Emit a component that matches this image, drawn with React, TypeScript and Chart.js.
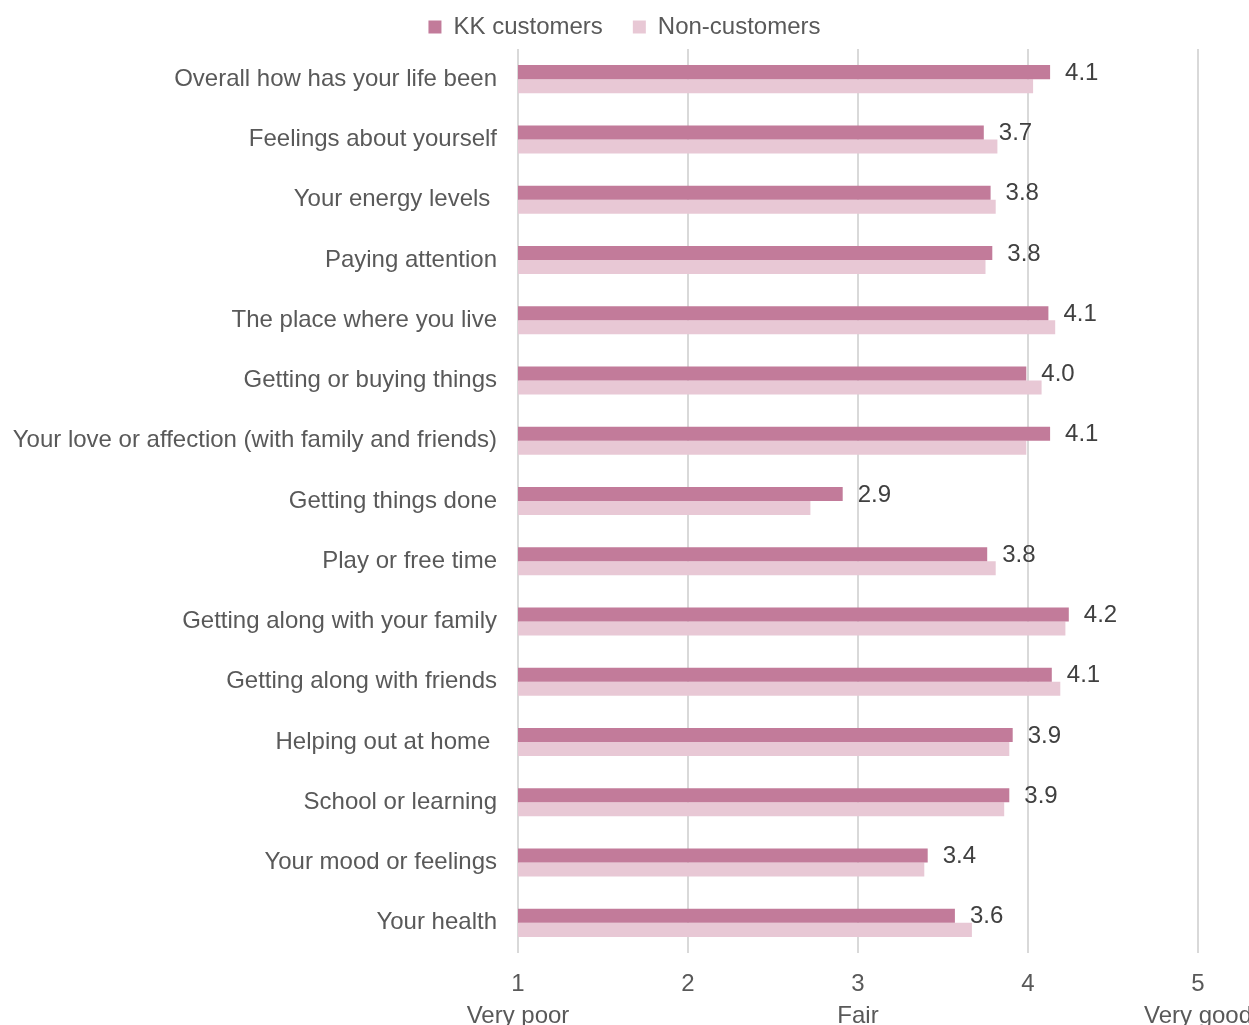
import React, { useEffect, useRef } from "react";
import { Chart, registerables } from "chart.js";

Chart.register(...registerables);

const categories = [
  "Overall how has your life been",
  "Feelings about yourself",
  "Your energy levels ",
  "Paying attention",
  "The place where you live",
  "Getting or buying things",
  "Your love or affection (with family and friends)",
  "Getting things done",
  "Play or free time",
  "Getting along with your family",
  "Getting along with friends",
  "Helping out at home ",
  "School or learning",
  "Your mood or feelings",
  "Your health",
];

const kkCustomers = [4.13, 3.74, 3.78, 3.79, 4.12, 3.99, 4.13, 2.91, 3.76, 4.24, 4.14, 3.91, 3.89, 3.41, 3.57];
const nonCustomers = [4.03, 3.82, 3.81, 3.75, 4.16, 4.08, 3.99, 2.72, 3.81, 4.22, 4.19, 3.89, 3.86, 3.39, 3.67];

const seriesNames = ["KK customers", "Non-customers"];
const tickValues = [1, 2, 3, 4, 5];
const tickSubLabels: Record<number, string> = { 1: "Very poor", 3: "Fair", 5: "Very good" };

const FONT = "'Liberation Sans', Arial, sans-serif";

const dataLabelPlugin = {
  id: "dataLabels",
  afterDatasetsDraw(chart: any) {
    const ctx = chart.ctx;
    const meta = chart.getDatasetMeta(0);
    const ds = chart.data.datasets[0];
    ctx.save();
    ctx.font = `24px ${FONT}`;
    ctx.fillStyle = "#404040";
    ctx.textAlign = "left";
    ctx.textBaseline = "middle";
    meta.data.forEach((el: any, i: number) => {
      const v = ds.data[i] as number;
      ctx.fillText(v.toFixed(1), el.x + 15, el.y + 1);
    });
    ctx.restore();
  },
};

export default function App() {
  const ref = useRef<HTMLCanvasElement | null>(null);
  useEffect(() => {
    if (!ref.current) return;
    const chart = new Chart(ref.current, {
      type: "bar",
      data: {
        labels: categories,
        datasets: [
          {
            label: seriesNames[0],
            data: kkCustomers,
            backgroundColor: "#C27B9A",
            categoryPercentage: 0.465,
            barPercentage: 1,
          },
          {
            label: seriesNames[1],
            data: nonCustomers,
            backgroundColor: "#E8C8D5",
            categoryPercentage: 0.465,
            barPercentage: 1,
          },
        ],
      },
      options: {
        indexAxis: "y",
        animation: false,
        responsive: true,
        maintainAspectRatio: false,
        layout: { padding: { top: -15, right: 0, left: 0, bottom: 0 } },
        plugins: {
          legend: {
            position: "top",
            labels: {
              boxWidth: 13,
              boxHeight: 13,
              color: "#595959",
              font: { family: FONT, size: 24 },
              padding: 30,
            },
          },
          tooltip: { enabled: false },
        },
        scales: {
          x: {
            min: 1,
            max: 5,
            afterFit: (scale: any) => {
              scale.height = 72;
              scale.paddingLeft = 0;
              scale.paddingRight = 51;
            },
            afterBuildTicks: (scale: any) => {
              scale.ticks = tickValues.map((v) => ({ value: v }));
            },
            ticks: {
              color: "#595959",
              font: { family: FONT, size: 24, lineHeight: 1.35 },
              padding: 15,
              maxRotation: 0,
              autoSkip: false,
              callback: (v: any) => {
                const n = Number(v);
                return tickSubLabels[n] ? [String(n), tickSubLabels[n]] : String(n);
              },
            },
            grid: { color: "#D9D9D9", lineWidth: 2, drawTicks: false },
            border: { display: false },
          },
          y: {
            afterFit: (scale: any) => {
              scale.width = 518;
            },
            ticks: {
              color: "#595959",
              font: { family: FONT, size: 24 },
              padding: 21,
              autoSkip: false,
            },
            grid: { display: false, drawTicks: false },
            border: { display: false },
          },
        },
      },
      plugins: [dataLabelPlugin],
    });
    return () => chart.destroy();
  }, []);
  return (
    <div style={{ position: "fixed", left: 0, top: 0, width: 1249, height: 1025, background: "#fff" }}>
      <canvas ref={ref} />
    </div>
  );
}
